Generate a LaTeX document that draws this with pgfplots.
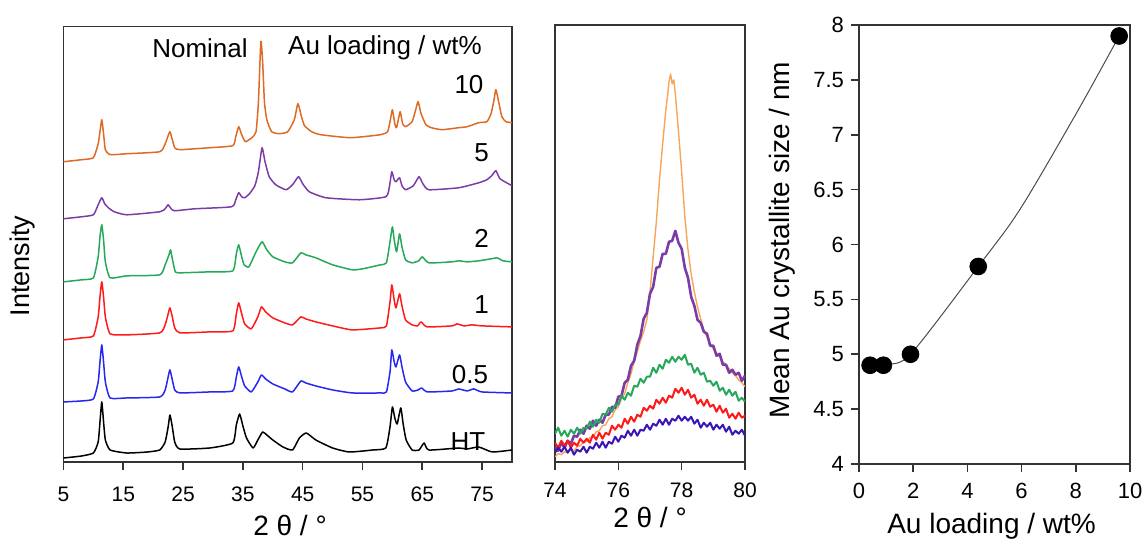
\documentclass[border=0pt]{standalone}
\usepackage{fontspec}
\setmainfont{Liberation Sans}
\usepackage{pgfplots}
\pgfplotsset{compat=1.18}

\definecolor{xorange}{HTML}{DD6B26}
\definecolor{lorange}{HTML}{F7A55A}
\definecolor{xpurple}{HTML}{7A3DA8}
\definecolor{xgreen}{HTML}{25A85A}
\definecolor{xred}{HTML}{FF1A1A}
\definecolor{xblue}{HTML}{2727F2}
\definecolor{dblue}{HTML}{3A16B8}
\definecolor{axgray}{HTML}{333333}

\newcommand{\tfont}{\fontsize{10.5}{12}\selectfont}
\newcommand{\lfont}{\fontsize{14}{16}\selectfont}

\pgfplotsset{
  panel/.style={
    scale only axis,
    anchor=south west,
    axis line style={line width=0.8pt, axgray},
    tick style={line width=0.8pt, axgray},
    tick pos=left,
    tick align=outside,
    major tick length=4pt,
    ticklabel style={font=\tfont},
    /pgf/number format/assume math mode=true,
  },
}

\begin{document}
\begin{tikzpicture}
\useasboundingbox (0,0) rectangle (571pt,269pt);

% ---------- left: full patterns ----------
\begin{axis}[panel,
  at={(31.75pt,38pt)}, width=224.25pt, height=217.7pt,
  xmin=5, xmax=80, ymin=0, ymax=435,
  xtick={5,15,25,35,45,55,65,75}, ytick=\empty,
  xticklabel style={yshift=-5pt},
  every axis plot/.append style={line width=0.75pt, line join=round, smooth, tension=0.3},
]
% HT
\addplot[black] coordinates {
(5,4)(8,6)(10,9)(10.8,20)(11.1,40)(11.4,60)(11.7,40)(12.0,22)(12.8,12)(15.6,9)(19,10)
(21.1,12)(22.0,20)(22.5,35)(22.8,47)(23.2,35)(23.6,20)(24.45,13)(29.45,14)(33.3,19)
(33.9,37)(34.45,48)(35.0,36)(35.6,24)(36.7,14)(37.5,22)(38.3,30)(39.0,27)(40,22)
(41.7,15)(43.3,12)(44.45,24)(45.6,29)(47.2,22)(50,14)(52.8,10)(56.7,12)(58.9,14)
(59.6,35)(60.0,55)(60.4,44)(60.8,38)(61.4,54)(61.8,38)(62.3,22)(63.3,12)(64.45,12)
(65.3,19)(66.1,12)(71.1,14)(72.5,13)(74.45,15)(76.7,10)(80,12)};
% 0.5
\addplot[xblue] coordinates {
(5,60)(8,61)(10,63)(10.8,80)(11.1,100)(11.4,117)(11.7,100)(12.0,80)(12.8,64)(15.6,64)
(21.1,65)(22.0,72)(22.5,85)(22.8,92)(23.2,82)(23.6,72)(24.45,69)(29.45,70)(33.3,71)
(33.9,85)(34.3,95)(34.8,85)(35.3,76)(36.4,70)(37.5,80)(38.1,87)(38.8,83)(40.0,78)
(42,73)(43.3,70)(44.7,81)(45.5,79)(47.2,76)(50,72)(53.3,69)(58,69)(59.0,70)(59.6,90)
(59.9,112)(60.3,100)(60.6,95)(61.2,107)(61.6,95)(62.2,80)(63.3,71)(64.3,72)(64.9,74)
(65.8,70)(70,71)(71.1,73)(72.5,71)(73.6,73)(75,70)(80,69)};
% 1
\addplot[xred] coordinates {
(5,122)(8,124)(10,126)(10.8,145)(11.1,165)(11.4,180)(11.7,165)(12.0,145)(12.8,128)
(15.6,127)(21.1,129)(22.0,137)(22.5,148)(22.8,154)(23.2,145)(23.6,134)(24.45,129)
(29.45,130)(33.3,131)(33.9,148)(34.3,159)(34.8,148)(35.3,138)(36.4,133)(37.5,145)
(38.1,155)(38.8,150)(40.0,144)(42,139)(43.3,137)(44.7,145)(45.5,143)(47.2,140)(50,136)
(53.3,132)(58,134)(59.0,136)(59.6,160)(59.9,177)(60.3,162)(60.6,154)(61.2,168)
(61.6,156)(62.2,142)(63.3,137)(64.2,136)(64.8,140)(65.8,135)(70,136)(70.8,138)(72,136)
(73.3,137)(75,136)(80,135)};
% 2
\addplot[xgreen] coordinates {
(5,180)(8,182)(10,184)(10.8,205)(11.1,225)(11.4,237)(11.7,222)(12.0,200)(12.8,184)
(15.6,186)(21.1,187)(22.0,197)(22.7,208)(22.9,212)(23.3,200)(23.7,190)(24.45,189)
(29.45,190)(33.3,191)(33.9,208)(34.3,217)(34.8,205)(35.2,197)(36.0,195)(37.2,210)
(38.2,220)(39.0,212)(40.0,205)(42,200)(43.3,199)(44.7,209)(45.5,207)(47.2,204)(50,197)
(53.3,192)(55,193)(58,197)(59.0,199)(59.6,220)(60.0,235)(60.3,222)(60.7,210)(61.2,228)
(61.6,215)(62.2,202)(63.3,199)(64.4,201)(65.0,205)(66.1,199)(70,200)(71.1,201)
(72.5,200)(74.45,201)(76.5,203)(77.5,204)(78.5,201)(80,200)};
% 5
\addplot[xpurple] coordinates {
(5,243)(8,245)(10,247)(10.8,257)(11.4,264)(11.9,258)(12.5,254)(13.5,250)(15.6,247)
(21.1,250)(22.0,253)(22.5,257)(23.0,253)(23.6,251)(27,253)(33.1,255)(33.8,262)
(34.3,269)(34.8,265)(35.3,264)(36.1,268)(37.0,276)(37.6,290)(38.2,314)(38.7,300)
(39.4,285)(40.5,277)(42.2,272)(43.3,277)(44.3,285)(45.0,278)(46.1,270)(48.9,264)
(54.5,262)(58.9,265)(59.5,275)(59.9,290)(60.3,282)(60.6,280)(61.2,284)(61.6,276)
(62.2,272)(63.5,276)(64.45,285)(65.1,278)(66.1,272)(71.1,274)(74.45,279)(75.8,282)
(76.6,286)(77.3,291)(78.0,283)(79.7,277)(80,276)};
% 10
\addplot[xorange] coordinates {
(5,300)(8,302)(10,304)(10.8,318)(11.1,330)(11.4,342)(11.7,328)(12.0,312)(12.8,307)
(15.6,308)(21.1,310)(22.0,318)(22.5,326)(22.8,330)(23.2,322)(23.6,314)(24.45,312)
(29.45,314)(33.3,316)(33.8,325)(34.3,335)(34.8,327)(35.4,320)(36.5,324)(37.2,330)
(37.6,360)(38.0,420)(38.3,400)(38.6,360)(39.0,342)(39.8,330)(41.1,328)(42.5,330)
(43.6,342)(44.2,358)(44.8,345)(45.3,336)(46.5,330)(48,327)(53,324)(58,327)(59.2,330)
(59.6,340)(60.0,352)(60.4,338)(60.7,334)(61.3,350)(61.7,338)(62.2,335)(63.3,340)
(63.9,352)(64.3,360)(64.8,348)(65.6,337)(66.5,334)(68.3,332)(71.1,334)(72.5,335)
(74.45,339)(75.8,340)(76.5,348)(77.0,362)(77.3,372)(77.7,362)(78.3,345)(79.0,340)
(80,339)};
\end{axis}

% ---------- middle: zoom 74-80 ----------
\begin{axis}[panel,
  at={(277.5pt,38.15pt)}, width=95pt, height=218.4pt,
  xmin=74, xmax=80, ymin=0, ymax=437,
  xtick={74,76,78,80}, ytick=\empty,
  xticklabel style={yshift=-3pt},
  every axis plot/.append style={line join=round},
]
\addplot[lorange, line width=0.7pt] coordinates {
(74.0,5)(74.1,8)(74.2,7)(74.3,10)(74.4,9)(74.5,12)(74.6,11)(74.7,15)(74.8,16)(74.9,20)
(75.0,20)(75.1,24)(75.2,25)(75.3,30)(75.4,31)(75.5,36)(75.6,37)(75.7,43)(75.8,45)
(75.9,52)(76.0,55)(76.1,63)(76.2,68)(76.3,79)(76.4,88)(76.5,100)(76.6,110)(76.7,121)
(76.8,130)(76.9,142)(77.0,170)(77.1,205)(77.2,240)(77.3,282)(77.4,318)(77.5,352)
(77.55,365)(77.6,380)(77.65,388)(77.7,378)(77.75,382)(77.8,368)(77.9,330)(78.0,290)
(78.1,245)(78.2,212)(78.3,188)(78.4,170)(78.5,155)(78.6,143)(78.7,132)(78.8,125)
(78.9,118)(79.0,113)(79.1,108)(79.2,105)(79.3,100)(79.4,97)(79.5,93)(79.6,89)(79.7,86)
(79.8,82)(79.9,79)(80.0,75)};
\addplot[xpurple, line width=1.3pt] coordinates {
(74.0,15)(74.1,11)(74.2,19)(74.3,14)(74.4,21)(74.5,18)(74.6,26)(74.7,25)(74.8,32)
(74.9,28)(75.0,36)(75.1,33)(75.2,41)(75.3,36)(75.4,42)(75.5,39)(75.6,47)(75.7,47)
(75.8,55)(75.9,54)(76.0,65)(76.1,66)(76.2,79)(76.3,82)(76.4,96)(76.5,101)(76.6,117)
(76.7,126)(76.8,143)(76.9,149)(77.0,168)(77.1,175)(77.2,194)(77.3,195)(77.4,208)
(77.5,208)(77.6,220)(77.7,221)(77.8,231)(77.9,219)(78.0,213)(78.1,194)(78.2,184)
(78.3,165)(78.4,156)(78.5,142)(78.6,139)(78.7,130)(78.8,128)(78.9,116)(79.0,116)
(79.1,106)(79.2,108)(79.3,97)(79.4,97)(79.5,89)(79.6,92)(79.7,87)(79.8,89)(79.9,81)
(80.0,86)};
\addplot[xgreen, line width=1pt] coordinates {
(74.0,28)(74.1,34)(74.2,26)(74.3,31)(74.4,25)(74.5,32)(74.6,28)(74.7,34)(74.8,28)
(74.9,34)(75.0,33)(75.1,40)(75.2,35)(75.3,42)(75.4,39)(75.5,48)(75.6,47)(75.7,54)
(75.8,50)(75.9,57)(76.0,57)(76.1,66)(76.2,62)(76.3,69)(76.4,66)(76.5,76)(76.6,75)
(76.7,83)(76.8,79)(76.9,85)(77.0,85)(77.1,94)(77.2,89)(77.3,97)(77.4,93)(77.5,102)
(77.6,99)(77.7,105)(77.8,100)(77.9,105)(78.0,102)(78.1,107)(78.2,97)(78.3,98)(78.4,89)
(78.5,94)(78.6,87)(78.7,89)(78.8,80)(78.9,81)(79.0,76)(79.1,80)(79.2,71)(79.3,74)
(79.4,67)(79.5,72)(79.6,66)(79.7,70)(79.8,61)(79.9,64)(80.0,60)};
\addplot[xred, line width=1pt] coordinates {
(74.0,19)(74.1,14)(74.2,21)(74.3,16)(74.4,21)(74.5,14)(74.6,19)(74.7,16)(74.8,23)
(74.9,19)(75.0,23)(75.1,19)(75.2,27)(75.3,22)(75.4,29)(75.5,23)(75.6,29)(75.7,27)
(75.8,36)(75.9,32)(76.0,37)(76.1,34)(76.2,43)(76.3,38)(76.4,45)(76.5,40)(76.6,47)
(76.7,45)(76.8,54)(76.9,51)(77.0,56)(77.1,53)(77.2,62)(77.3,58)(77.4,64)(77.5,59)
(77.6,66)(77.7,64)(77.8,73)(77.9,69)(78.0,74)(78.1,67)(78.2,72)(78.3,64)(78.4,67)
(78.5,58)(78.6,62)(78.7,56)(78.8,62)(78.9,55)(79.0,57)(79.1,50)(79.2,56)(79.3,49)
(79.4,53)(79.5,44)(79.6,48)(79.7,43)(79.8,49)(79.9,44)(80.0,46)};
\addplot[dblue, line width=1pt] coordinates {
(74.0,9)(74.1,14)(74.2,10)(74.3,15)(74.4,9)(74.5,14)(74.6,7)(74.7,12)(74.8,10)(74.9,15)
(75.0,9)(75.1,15)(75.2,13)(75.3,19)(75.4,14)(75.5,20)(75.6,14)(75.7,20)(75.8,18)
(75.9,25)(76.0,20)(76.1,26)(76.2,24)(76.3,31)(76.4,26)(76.5,32)(76.6,26)(76.7,32)
(76.8,31)(76.9,37)(77.0,32)(77.1,38)(77.2,36)(77.3,42)(77.4,37)(77.5,43)(77.6,37)
(77.7,43)(77.8,41)(77.9,46)(78.0,41)(78.1,45)(78.2,41)(78.3,45)(78.4,38)(78.5,42)
(78.6,34)(78.7,39)(78.8,35)(78.9,39)(79.0,32)(79.1,37)(79.2,33)(79.3,37)(79.4,30)
(79.5,35)(79.6,27)(79.7,31)(79.8,28)(79.9,32)(80.0,26)};
\end{axis}

% ---------- right: crystallite size ----------
\begin{axis}[panel,
  at={(429.5pt,37pt)}, width=135.5pt, height=219.5pt,
  xmin=0, xmax=10, ymin=4, ymax=8,
  xtick={0,2,...,10}, ytick={4,4.5,...,8},
  ticklabel style={font=\fontsize{11}{13}\selectfont},
  xticklabel style={yshift=-2pt},
  clip=false,
]
\addplot[black!70, line width=0.5pt, smooth] coordinates {
(1.07,4.92)(1.9,5.0)(4.4,5.8)(5.94,6.32)(8.03,7.2)(9.6,7.9)};
\addplot[only marks, mark=*, mark size=4.2pt, black] coordinates {
(0.41,4.9)(0.9,4.9)(1.9,5.0)(4.4,5.8)(9.6,7.9)};
\end{axis}

% ---------- texts ----------
\node[font=\fontsize{13.5}{16}\selectfont, rotate=90] at (11.25pt,136pt) {Intensity};
\node[font=\lfont, anchor=base] at (145pt,1.5pt) {2 θ / °};
\node[font=\lfont, anchor=base] at (325pt,5.5pt) {2 θ / °};
\node[font=\lfont, anchor=base] at (495.8pt,2.5pt) {Au loading / wt\%};
\node[font=\lfont, rotate=90] at (391pt,149pt) {Mean Au crystallite size / nm};

\begin{scope}[every node/.style={font=\fontsize{13}{15}\selectfont, inner sep=0pt}]
\node at (100pt,245pt) {Nominal};
\node at (192.5pt,245pt) {Au loading / wt\%};
\node at (234.5pt,226.5pt) {10};
\node at (240.85pt,192.5pt) {5};
\node at (240.85pt,150pt) {2};
\node at (240.85pt,116.5pt) {1};
\node at (235pt,81.5pt) {0.5};
\node at (234pt,48pt) {HT};
\end{scope}
\end{tikzpicture}
\end{document}
